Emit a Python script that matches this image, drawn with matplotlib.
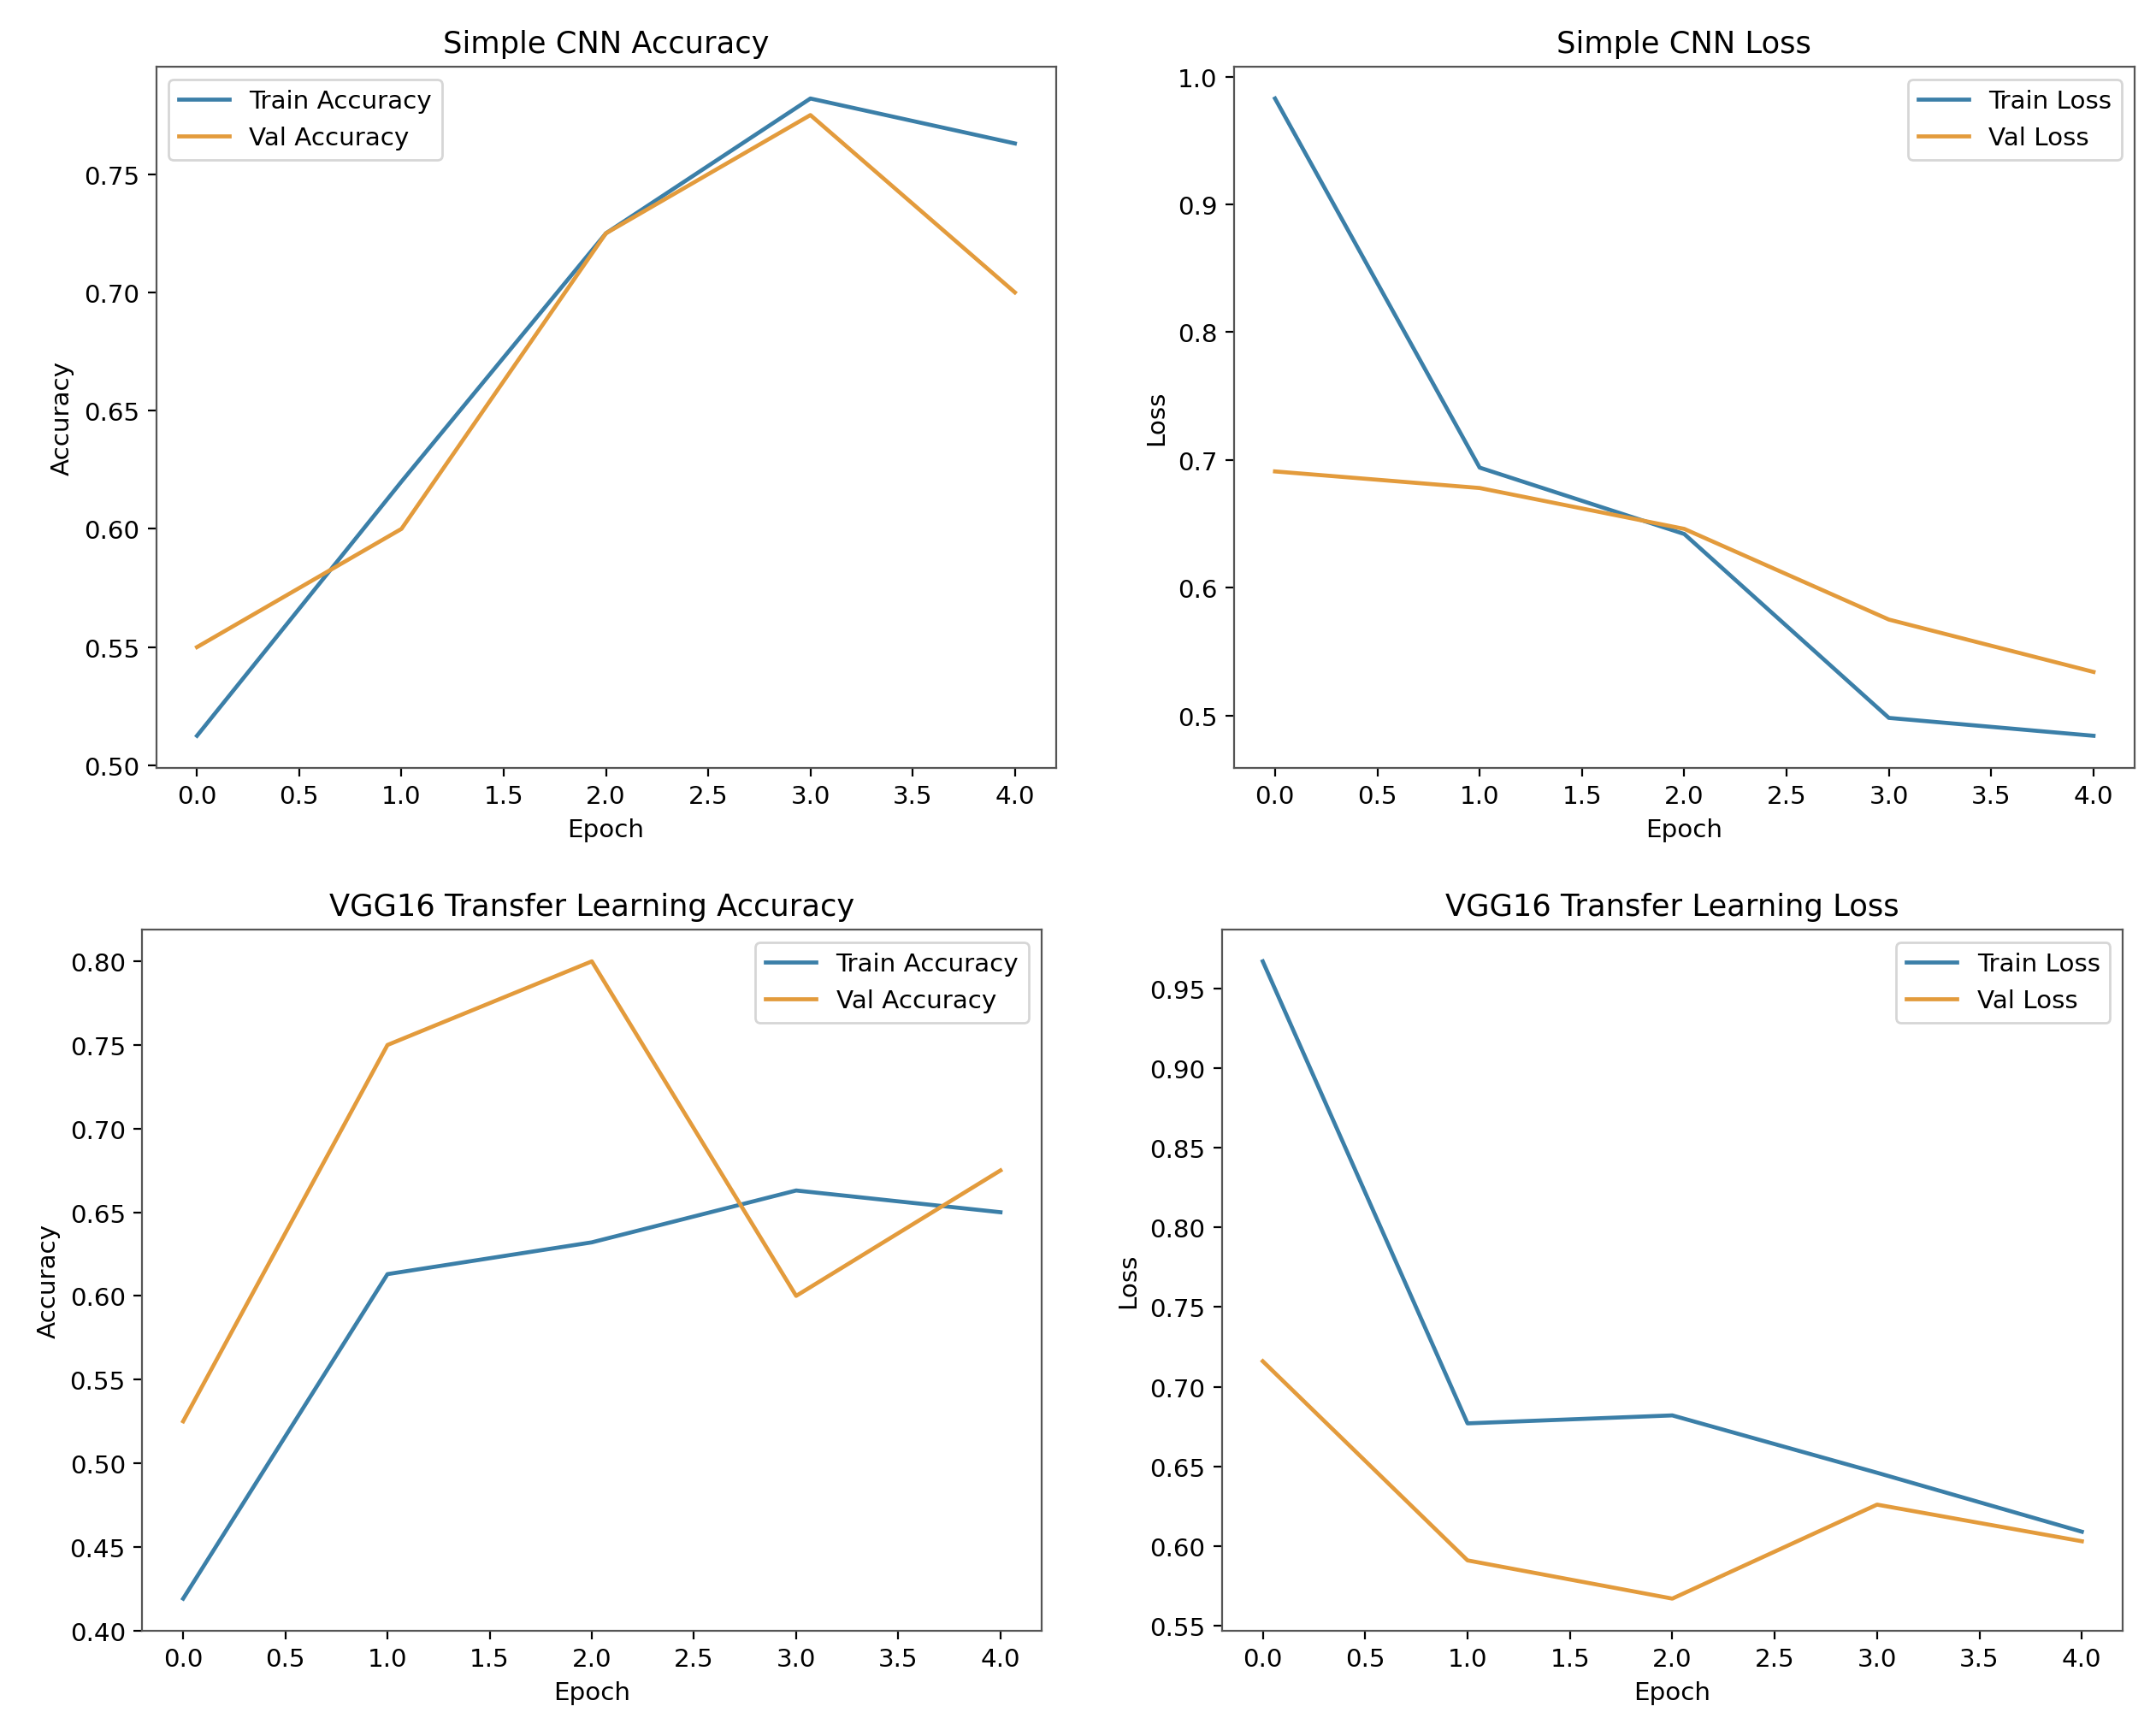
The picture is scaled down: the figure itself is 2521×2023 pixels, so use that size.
import matplotlib
matplotlib.use("Agg")
import matplotlib.pyplot as plt

epochs = [0, 1, 2, 3, 4]

cnn_train_acc = [0.5125, 0.620, 0.725, 0.782, 0.763]
cnn_val_acc = [0.550, 0.600, 0.725, 0.775, 0.700]
cnn_train_loss = [0.983, 0.694, 0.642, 0.498, 0.484]
cnn_val_loss = [0.691, 0.678, 0.646, 0.575, 0.534]

vgg_train_acc = [0.419, 0.613, 0.632, 0.663, 0.650]
vgg_val_acc = [0.525, 0.750, 0.800, 0.600, 0.675]
vgg_train_loss = [0.967, 0.677, 0.682, 0.646, 0.609]
vgg_val_loss = [0.716, 0.591, 0.567, 0.626, 0.603]

BLUE = "#3b7fa8"
ORANGE = "#e39b3c"

fig = plt.figure(figsize=(12.605, 10.12), dpi=200)

positions = [
    [0.0724, 0.556, 0.4173, 0.405],
    [0.5724, 0.556, 0.4176, 0.405],
    [0.066, 0.0575, 0.417, 0.405],
    [0.5667, 0.0575, 0.4179, 0.405],
]

panels = [
    ("Simple CNN Accuracy", "Accuracy", cnn_train_acc, cnn_val_acc,
     "Train Accuracy", "Val Accuracy", "upper left"),
    ("Simple CNN Loss", "Loss", cnn_train_loss, cnn_val_loss,
     "Train Loss", "Val Loss", "upper right"),
    ("VGG16 Transfer Learning Accuracy", "Accuracy", vgg_train_acc, vgg_val_acc,
     "Train Accuracy", "Val Accuracy", "upper right"),
    ("VGG16 Transfer Learning Loss", "Loss", vgg_train_loss, vgg_val_loss,
     "Train Loss", "Val Loss", "upper right"),
]

for pos, (title, ylabel, tr, va, trl, val, loc) in zip(positions, panels):
    ax = fig.add_axes(pos)
    ax.plot(epochs, tr, color=BLUE, lw=1.7, label=trl)
    ax.plot(epochs, va, color=ORANGE, lw=1.7, label=val)
    ax.set_title(title, fontsize=12.7)
    ax.set_xlabel("Epoch", fontsize=10.6)
    ax.set_ylabel(ylabel, fontsize=10.6)
    ax.tick_params(labelsize=10.6)
    for s in ax.spines.values():
        s.set_color("#555555")
    ax.legend(loc=loc, fontsize=10.6)

fig.savefig("out.png", dpi=200)
